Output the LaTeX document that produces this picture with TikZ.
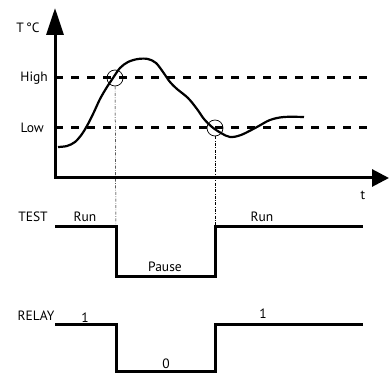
\documentclass[tikz,border=0pt]{standalone}
\usepackage{fontspec}
\setmainfont{PT Sans}
\usetikzlibrary{arrows.meta,positioning}

\begin{document}
\begin{tikzpicture}[x=1pt,y=-1pt,
  font=\fontsize{13.5}{15}\selectfont,
  axis/.style ={line width=3pt, line join=miter,
                {Triangle[length=27pt,width=17pt]}-{Triangle[length=17pt,width=17pt]}},
  level/.style={line width=3pt, dash pattern=on 8pt off 8pt},
  temp/.style ={line width=2.2pt},
  sig/.style  ={line width=3pt, line join=miter},
  ring/.style ={circle, draw, line width=0.7pt, minimum size=16pt, inner sep=0pt},
  guide/.style={line width=0.5pt, dash pattern=on 3pt off 1.5pt on 0.6pt off 1.5pt},
  lbl/.style  ={inner sep=1pt}
]
\useasboundingbox (0,0) rectangle (389,374);

% axes
\coordinate (ytop) at (55,8);
\coordinate (orig) at (55,178);
\coordinate (xend) at (389,178);
\draw[axis] (ytop) -- (orig) -- (xend);

\node[lbl] (tc) at (28,28) {T\,°C};
\node[lbl] (tlab) at (363,195) {t};

% thresholds
\coordinate (hiL) at (55,78);  \coordinate (hiR) at (368,78);
\coordinate (loL) at (55,128); \coordinate (loR) at (368,128);
\draw[level] (hiL) -- (hiR);
\draw[level] (loL) -- (loR);
\node[lbl, left=6pt of hiL] (high) {High};
\node[lbl, left=10pt of loL] (low) {Low};

% temperature
\draw[temp] plot[smooth, tension=0.55] coordinates {
  (58,147) (67,146) (75,142) (82,134) (88,124) (94,112) (100,99)
  (107,87) (113,78) (120,68) (128,62) (138,59) (148,59) (156,63)
  (163,72) (170,82) (177,89) (188,98) (197,109) (204,119) (212,127)
  (221,133) (230,137) (241,135) (257,127) (270,120) (284,117) (304,117)};

\node[ring] (cHi) at (115,78) {};
\node[ring] (cLo) at (215,128) {};

% TEST
\coordinate (ts0) at (55,227);
\coordinate (ts1) at (116,227);
\coordinate (ts2) at (116,277);
\coordinate (ts3) at (215,277);
\coordinate (ts4) at (215,227);
\coordinate (ts5) at (363,227);
\draw[sig] (ts0) -- (ts1) -- (ts2) -- (ts3) -- (ts4) -- (ts5);

\node[lbl] (test)  at (33,217)  {TEST};
\node[lbl] (run1)  at (85,217)  {Run};
\node[lbl] (pause) at (165,267) {Pause};
\node[lbl] (run2)  at (262,217) {Run};

% RELAY
\coordinate (rl0) at (55,325);
\coordinate (rl1) at (116,325);
\coordinate (rl2) at (116,372);
\coordinate (rl3) at (215,372);
\coordinate (rl4) at (215,325);
\coordinate (rl5) at (363,325);
\draw[sig] (rl0) -- (rl1) -- (rl2) -- (rl3) -- (rl4) -- (rl5);

\node[lbl] (relay) at (36,316)  {RELAY};
\node[lbl] (one1)  at (85,318)  {1};
\node[lbl] (zero)  at (166,364) {0};
\node[lbl] (one2)  at (263,314) {1};

% guides
\draw[guide] (cHi.south) -- (ts1);
\draw[guide] (cLo.south) -- (ts4);

\end{tikzpicture}
\end{document}
